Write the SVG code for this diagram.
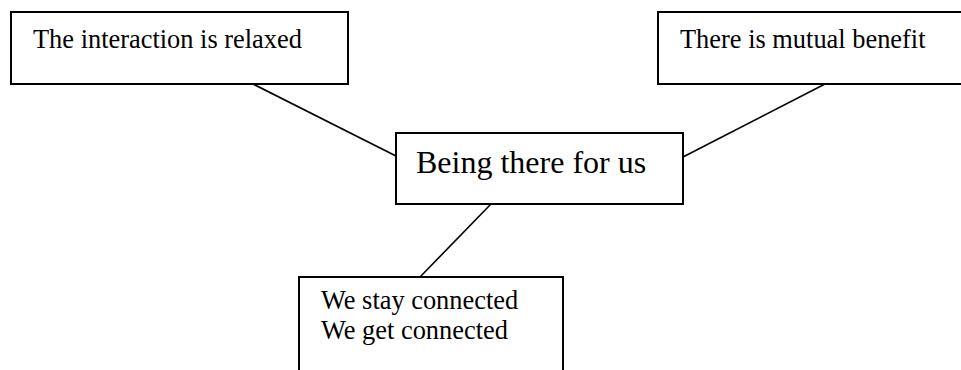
<svg xmlns="http://www.w3.org/2000/svg" width="961" height="370" viewBox="0 0 961 370">
  <style>
    .box { fill: #ffffff; stroke: #000000; stroke-width: 2; }
    .link { stroke: #000000; stroke-width: 1.6; fill: none; }
    .label { font-family: "Liberation Serif", "Times New Roman", serif; font-size: 26.4px; fill: #000000; }
    .title { font-family: "Liberation Serif", "Times New Roman", serif; font-size: 32px; fill: #000000; }
  </style>
  <rect width="961" height="370" fill="#ffffff"/>

  <!-- connectors from the central box to the three outer boxes -->
  <g id="connectors">
    <line class="link" x1="253" y1="84" x2="396" y2="156"/>
    <line class="link" x1="825" y1="84" x2="683" y2="157"/>
    <line class="link" x1="491" y1="204" x2="420" y2="277"/>
  </g>

  <g id="node-relaxed">
    <rect class="box" x="11" y="12" width="337" height="72"/>
    <text class="label" x="33" y="48">The interaction is relaxed</text>
  </g>

  <g id="node-benefit">
    <!-- right side runs past the page edge -->
    <path class="box" d="M 975 12 H 658 V 84 H 975"/>
    <text class="label" x="680" y="48">There is mutual benefit</text>
  </g>

  <g id="node-center">
    <rect class="box" x="396" y="133" width="287" height="71"/>
    <text class="title" x="416" y="173">Being there for us</text>
  </g>

  <g id="node-connected">
    <!-- bottom edge runs past the page edge -->
    <path class="box" d="M 299 380 V 277 H 563 V 380"/>
    <text class="label" x="321" y="309">We stay connected</text>
    <text class="label" x="321" y="339">We get connected</text>
  </g>
</svg>
